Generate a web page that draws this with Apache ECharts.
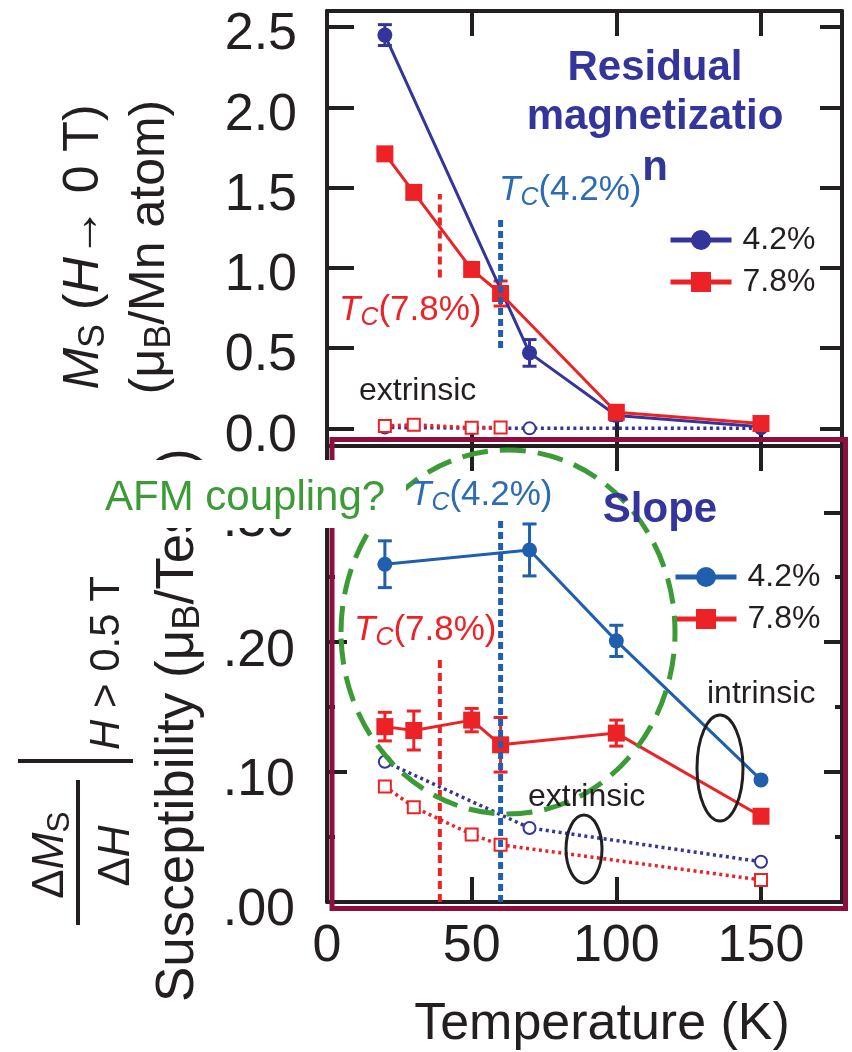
<!DOCTYPE html>
<html>
<head>
<meta charset="utf-8">
<script src="https://cdn.jsdelivr.net/npm/echarts@6/dist/echarts.min.js"></script>
<style>
  html, body { margin: 0; padding: 0; background: #ffffff; }
  #chart { width: 852px; height: 1052px; }
</style>
</head>
<body>
<div id="chart"></div>
<script>
// Residual magnetization Ms (H -> 0 T), in muB per Mn atom
const msTemp42 = [20, 70, 100, 150];
const ms42 = [2.45, 0.47, 0.08, 0.01];
const ms42Err = [0.065, 0.083, 0.03, 0];
const msTemp78 = [20, 30, 50, 60, 100, 150];
const ms78 = [1.71, 1.47, 0.99, 0.84, 0.10, 0.03];
const ms78Err = [0, 0, 0, 0.078, 0, 0];
// extrinsic part of the residual magnetization
const msExtTemp42 = [20, 70, 150];
const msExt42 = [0.005, 0.0, 0.0];
const msExtTemp78 = [20, 30, 50, 60];
const msExt78 = [0.015, 0.022, 0.004, 0.006];

// Slope dMs/dH above 0.5 T (susceptibility), in muB per Tesla
const chiTemp42 = [20, 70, 100, 150];
const chi42 = [0.260, 0.271, 0.201, 0.094];
const chi42Err = [0.018, 0.020, 0.012, 0];
const chiTemp78 = [20, 30, 50, 60, 100, 150];
const chi78 = [0.135, 0.132, 0.140, 0.121, 0.130, 0.066];
const chi78Err = [0.011, 0.015, 0.009, 0.021, 0.010, 0];
// extrinsic part of the slope
const chiExtTemp42 = [20, 70, 150];
const chiExt42 = [0.108, 0.057, 0.031];
const chiExtTemp78 = [20, 30, 50, 60, 150];
const chiExt78 = [0.089, 0.073, 0.052, 0.044, 0.017];

// Curie temperatures and the value span of their markers
const tc42 = 60;
const tc78 = 39;
const tcSpanMs42 = [0.5, 1.3];
const tcSpanMs78 = [0.94, 1.46];
const tcSpanChi42 = [0, 0.294];
const tcSpanChi78 = [0, 0.19];

// tick labels
const tempTicks = [0, 50, 100, 150];
const msTicks = [0, 0.5, 1.0, 1.5, 2.0, 2.5];
const chiTicks = [0, 0.10, 0.20, 0.30];
const chiMinorTicks = [0.05, 0.15, 0.25];

const FONT = '"Liberation Sans", Arial, Helvetica, sans-serif';
const INK = '#231f20';
const NAVY = '#34359a';
const BLUE = '#1f5fae';
const TCBLUE = '#2b6cb5';
const RED = '#ec2227';
const GREEN = '#3c9b37';
const MAROON = '#8e0e3e';

const tempMin = 0, tempMax = 178;
const msMin = -0.11, msMax = 2.6;
const chiMin = 0, chiMax = 0.351;

function pts(xs, ys) { return xs.map((x, i) => [x, ys[i]]); }
function withErr(xs, ys, es) {
  return xs.map((x, i) => [x, ys[i], es[i]]).filter(d => d[2] > 0);
}

const axisStroke = { color: INK, width: 4 };

function xAxisDef(grid, pos, withLabels) {
  return {
    type: 'value', gridIndex: grid, position: pos, min: tempMin, max: tempMax,
    axisLine: { show: true, onZero: false, lineStyle: axisStroke },
    axisTick: { show: true, inside: true, length: 25,
      customValues: tempTicks.filter(v => v > tempMin), lineStyle: axisStroke },
    axisLabel: withLabels
      ? { show: true, customValues: tempTicks, fontSize: 52, fontFamily: FONT, color: INK, margin: 19 }
      : { show: false },
    splitLine: { show: false }
  };
}

function yAxisDef(grid, pos, min, max, ticks, tickLen, label, lineShown) {
  return {
    type: 'value', gridIndex: grid, position: pos, min: min, max: max,
    axisLine: { show: lineShown, onZero: false, lineStyle: axisStroke },
    axisTick: { show: true, inside: true, length: tickLen, customValues: ticks, lineStyle: axisStroke },
    axisLabel: label || { show: false },
    splitLine: { show: false }
  };
}

function curve(name, xs, ys, color, symbol, size, xi, yi) {
  return {
    type: 'line', name: name, xAxisIndex: xi, yAxisIndex: yi, data: pts(xs, ys),
    symbol: symbol, symbolSize: size, showSymbol: true, silent: true, z: 4,
    lineStyle: { color: color, width: 3 }, itemStyle: { color: color }
  };
}

function dottedCurve(name, xs, ys, color, symbol, xi, yi) {
  return {
    type: 'line', name: name, xAxisIndex: xi, yAxisIndex: yi, data: pts(xs, ys),
    symbol: symbol, symbolSize: 12, showSymbol: true, silent: true, z: 3,
    lineStyle: { color: color, width: 3.5, type: [3, 3.5] },
    itemStyle: { color: color, borderColor: color, borderWidth: 2 }
  };
}

function errorBars(name, xs, ys, es, color, xi, yi) {
  return {
    type: 'custom', name: name, xAxisIndex: xi, yAxisIndex: yi, z: 3, silent: true,
    data: withErr(xs, ys, es),
    renderItem: function (params, api) {
      const x = api.value(0), y = api.value(1), e = api.value(2);
      const hi = api.coord([x, y + e]);
      const lo = api.coord([x, y - e]);
      const cap = 7;
      const st = { stroke: color, lineWidth: 3 };
      return {
        type: 'group', children: [
          { type: 'line', shape: { x1: hi[0], y1: hi[1], x2: lo[0], y2: lo[1] }, style: st },
          { type: 'line', shape: { x1: hi[0] - cap, y1: hi[1], x2: hi[0] + cap, y2: hi[1] }, style: st },
          { type: 'line', shape: { x1: lo[0] - cap, y1: lo[1], x2: lo[0] + cap, y2: lo[1] }, style: st }
        ]
      };
    }
  };
}

function tcMarker(name, tc, span, color, dash, width, xi, yi) {
  return {
    type: 'line', name: name, xAxisIndex: xi, yAxisIndex: yi,
    data: [[tc, span[0]], [tc, span[1]]], symbol: 'none', silent: true, z: 6,
    lineStyle: { color: color, width: width, type: dash, cap: 'butt' }
  };
}

// rich styles for italic symbols and subscripts
function richSet(size, color) {
  return {
    i: { fontSize: size, fontStyle: 'italic', fontFamily: FONT, fill: color, lineHeight: size + 6 },
    n: { fontSize: size, fontFamily: FONT, fill: color, lineHeight: size + 6 },
    b: { fontSize: size, fontWeight: 'bold', fontFamily: FONT, fill: color, lineHeight: size + 6 },
    s: { fontSize: Math.round(size * 0.72), fontFamily: FONT, fill: color, lineHeight: Math.round(size * 0.4), verticalAlign: 'bottom' },
    si: { fontSize: Math.round(size * 0.72), fontStyle: 'italic', fontFamily: FONT, fill: color, lineHeight: Math.round(size * 0.4), verticalAlign: 'bottom' }
  };
}

function label(x, y, text, size, color, opts) {
  opts = opts || {};
  return {
    type: 'text', x: x, y: y, z: opts.z || 80, silent: true, rotation: opts.rotation || 0,
    style: {
      text: text, fill: color, fontSize: size, fontFamily: FONT,
      fontWeight: opts.bold ? 'bold' : 'normal',
      align: opts.align || 'left', verticalAlign: 'middle',
      rich: richSet(size, color)
    }
  };
}

const R90 = Math.PI / 2;

const chart = echarts.init(document.getElementById('chart'), null, { renderer: 'canvas' });

chart.setOption({
  animation: false,
  backgroundColor: '#ffffff',
  textStyle: { fontFamily: FONT },
  grid: [
    { left: 327, top: 11, width: 515, height: 435, outerBoundsMode: 'none' },
    { left: 327, top: 446, width: 515, height: 456, outerBoundsMode: 'none' }
  ],
  xAxis: [
    xAxisDef(0, 'bottom', false),
    xAxisDef(0, 'top', false),
    xAxisDef(1, 'bottom', true),
    xAxisDef(1, 'top', false)
  ],
  yAxis: [
    yAxisDef(0, 'left', msMin, msMax, msTicks, 27, {
      show: true, customValues: msTicks, formatter: v => v.toFixed(1),
      fontSize: 52, fontFamily: FONT, color: INK, margin: 30,
      verticalAlign: 'top', lineHeight: 16
    }, true),
    yAxisDef(0, 'right', msMin, msMax, msTicks, 22, null, true),
    yAxisDef(1, 'left', chiMin, chiMax, chiTicks, 20, {
      show: true, customValues: chiTicks, formatter: v => v.toFixed(2).replace(/^0/, ''),
      fontSize: 52, fontFamily: FONT, color: INK, margin: 32,
      verticalAlign: 'top', lineHeight: 18
    }, true),
    yAxisDef(1, 'right', chiMin, chiMax, chiTicks, 18, null, true),
    yAxisDef(1, 'left', chiMin, chiMax, chiMinorTicks, 8, null, false),
    yAxisDef(1, 'right', chiMin, chiMax, chiMinorTicks, 7, null, false)
  ],
  legend: [
    {
      left: 663, top: 219, orient: 'vertical', itemWidth: 61, itemHeight: 25, itemGap: 10,
      selectedMode: false,
      textStyle: { fontSize: 32, color: INK, fontFamily: FONT, lineHeight: 32, padding: [0, 0, 0, 6] },
      data: [
        { name: '4.2%', itemStyle: { color: NAVY }, lineStyle: { color: NAVY, width: 5 } },
        { name: '7.8%', itemStyle: { color: RED }, lineStyle: { color: RED, width: 5 } }
      ]
    },
    {
      left: 668, top: 556, orient: 'vertical', itemWidth: 61, itemHeight: 25, itemGap: 10,
      selectedMode: false,
      textStyle: { fontSize: 32, color: INK, fontFamily: FONT, lineHeight: 32, padding: [0, 0, 0, 6] },
      data: [
        { name: '4.2%', itemStyle: { color: BLUE }, lineStyle: { color: BLUE, width: 5 } },
        { name: '7.8%', itemStyle: { color: RED }, lineStyle: { color: RED, width: 5 } }
      ]
    }
  ],
  series: [
    // residual magnetization panel
    dottedCurve('Ms extrinsic 4.2%', msExtTemp42, msExt42, NAVY, 'emptyCircle', 0, 0),
    dottedCurve('Ms extrinsic 7.8%', msExtTemp78, msExt78, RED, 'emptyRect', 0, 0),
    errorBars('Ms 4.2% error', msTemp42, ms42, ms42Err, NAVY, 0, 0),
    errorBars('Ms 7.8% error', msTemp78, ms78, ms78Err, RED, 0, 0),
    curve('4.2%', msTemp42, ms42, NAVY, 'circle', 15, 0, 0),
    curve('7.8%', msTemp78, ms78, RED, 'rect', 17, 0, 0),
    tcMarker('Tc 7.8% (Ms)', tc78, tcSpanMs78, RED, [8, 5], 4, 0, 0),
    tcMarker('Tc 4.2% (Ms)', tc42, tcSpanMs42, BLUE, [7, 4], 5, 0, 0),

    // slope panel
    dottedCurve('slope extrinsic 4.2%', chiExtTemp42, chiExt42, NAVY, 'emptyCircle', 2, 2),
    dottedCurve('slope extrinsic 7.8%', chiExtTemp78, chiExt78, RED, 'emptyRect', 2, 2),
    errorBars('slope 4.2% error', chiTemp42, chi42, chi42Err, BLUE, 2, 2),
    errorBars('slope 7.8% error', chiTemp78, chi78, chi78Err, RED, 2, 2),
    curve('4.2%', chiTemp42, chi42, BLUE, 'circle', 15, 2, 2),
    curve('7.8%', chiTemp78, chi78, RED, 'rect', 17, 2, 2),
    tcMarker('Tc 7.8% (slope)', tc78, tcSpanChi78, RED, [8, 5], 4, 2, 2),
    tcMarker('Tc 4.2% (slope)', tc42, tcSpanChi42, BLUE, [7, 4], 5, 2, 2)
  ],
  graphic: {
    elements: [
      // panel titles
      label(655, 68, 'Residual', 42, NAVY, { bold: true, align: 'center' }),
      label(655, 117, 'magnetizatio', 42, NAVY, { bold: true, align: 'center' }),
      label(655, 168, 'n', 42, NAVY, { bold: true, align: 'center' }),
      label(660, 510, 'Slope', 42, NAVY, { bold: true, align: 'center' }),

      // Curie temperature labels
      label(499, 190, '{i|T}{si|C}{n|(4.2%)}', 35, TCBLUE),
      label(339, 310, '{i|T}{si|C}{n|(7.8%)}', 35, RED),
      label(410, 495, '{i|T}{si|C}{n|(4.2%)}', 35, TCBLUE),
      label(354, 630, '{i|T}{si|C}{n|(7.8%)}', 35, RED),

      label(359, 391, 'extrinsic', 32, INK),
      label(528, 797, 'extrinsic', 32, INK),
      label(707, 694, 'intrinsic', 32, INK),

      // grouping ellipses
      { type: 'ellipse', z: 70, silent: true, shape: { cx: 720, cy: 768, rx: 23, ry: 53 },
        style: { fill: 'none', stroke: INK, lineWidth: 3 } },
      { type: 'ellipse', z: 70, silent: true, shape: { cx: 584, cy: 849, rx: 18, ry: 34 },
        style: { fill: 'none', stroke: INK, lineWidth: 3 } },
      { type: 'ellipse', z: 70, silent: true, shape: { cx: 508, cy: 632, rx: 167, ry: 182 },
        style: { fill: 'none', stroke: GREEN, lineWidth: 5, lineDash: [26, 12] } },

      // frame around the slope panel
      { type: 'rect', z: 60, silent: true, shape: { x: 332, y: 439.5, width: 513.5, height: 469 },
        style: { fill: 'none', stroke: MAROON, lineWidth: 5 } },

      // axis titles, residual magnetization
      label(84, 247, '{i|M}{s|S}{n| (}{i|H}{b|\u2192}{n| 0 T)}', 50, INK, { rotation: R90, align: 'center', z: 40 }),
      label(150, 247, '{n|(\u03bc}{s|B}{n|/Mn atom)}', 50, INK, { rotation: R90, align: 'center', z: 40 }),

      // axis titles, slope
      label(178, 1002, '{n|Susceptibility (\u03bc}{s|B}{n|/Tesla)}', 53, INK, { rotation: R90, align: 'left', z: 40 }),
      label(51, 855, '{n|\u0394}{i|M}{s|S}', 44, INK, { rotation: R90, align: 'center', z: 40 }),
      label(117, 856, '{n|\u0394}{i|H}', 44, INK, { rotation: R90, align: 'center', z: 40 }),
      label(107, 663, '{i|H}{n| > 0.5 T}', 42, INK, { rotation: R90, align: 'center', z: 40 }),
      { type: 'line', z: 40, silent: true, shape: { x1: 78, y1: 780, x2: 78, y2: 925 },
        style: { stroke: INK, lineWidth: 4 } },
      { type: 'line', z: 40, silent: true, shape: { x1: 18, y1: 761, x2: 133, y2: 761 },
        style: { stroke: INK, lineWidth: 4 } },

      // AFM note on a white patch
      { type: 'rect', z: 75, silent: true, shape: { x: 98, y: 460, width: 308, height: 68 },
        style: { fill: '#ffffff' } },
      label(105, 498, 'AFM coupling?', 42, GREEN),

      label(602, 1025, 'Temperature (K)', 52, INK, { align: 'center' })
    ]
  }
});
</script>
</body>
</html>
